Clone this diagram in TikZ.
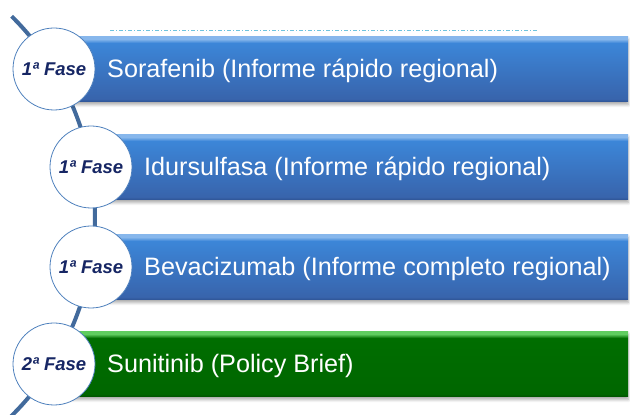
\documentclass[tikz,border=0pt]{standalone}
\usepackage{fontspec}
\setmainfont{Liberation Sans}
\usetikzlibrary{calc,shadows.blur}

\definecolor{blueD}{RGB}{47,85,151}
\definecolor{blueB}{RGB}{56,100,172}
\definecolor{blueT}{RGB}{60,134,216}
\definecolor{blueL}{RGB}{135,183,236}
\definecolor{greenD}{RGB}{0,82,0}
\definecolor{greenB}{RGB}{0,102,0}
\definecolor{greenT}{RGB}{0,110,0}
\definecolor{greenL}{RGB}{95,205,95}
\definecolor{spineblue}{RGB}{66,106,156}
\definecolor{circleline}{RGB}{79,129,189}
\definecolor{phasenavy}{RGB}{22,38,100}
\definecolor{dotcyan}{RGB}{110,195,222}

\pgfdeclareverticalshading{barblueshade}{100bp}{color(0bp)=(blueD); color(25bp)=(blueD);
  color(27bp)=(blueB); color(70bp)=(blueT); color(73bp)=(blueL); color(100bp)=(blueL)}
\pgfdeclareverticalshading{bargreenshade}{100bp}{color(0bp)=(greenD); color(25bp)=(greenD);
  color(27bp)=(greenB); color(70bp)=(greenT); color(73bp)=(greenL); color(100bp)=(greenL)}

\tikzset{
  bar/.style={rectangle, minimum height=65pt, inner sep=0pt, anchor=west,
    blur shadow={shadow xshift=0pt, shadow yshift=-3pt, shadow blur radius=3pt, shadow opacity=35}},
  bluebar/.style={bar, shading=barblueshade},
  greenbar/.style={bar, shading=bargreenshade},
  phase/.style={circle, draw=circleline, line width=0.8pt, fill=white, minimum size=82pt,
    inner sep=0pt, text=phasenavy, font=\bfseries\itshape\fontsize{18.5}{21}\selectfont},
  bartext/.style={text=white, font=\fontsize{25.2}{30}\selectfont, inner sep=0pt, anchor=base west},
  spine/.style={draw=spineblue, line width=4pt}
}

\begin{document}
\begin{tikzpicture}[x=1pt, y=1pt]
    \useasboundingbox (0,0) rectangle (630,415);
    \coordinate (hub) at (-186,199);
    % curved spine behind the circles
    \draw[spine] ($(hub)+(45.3:281)$) arc[start angle=45.3, end angle=-50, radius=281];
    \draw[dotcyan, line width=1pt, dash pattern=on 4pt off 2pt on 1pt off 2pt] (110,384) -- (537,384);
    \foreach \n/\x/\y/\kind/\fase/\drug in {
        1/54/346/blue/1/{Sorafenib (Informe rápido regional)},
        2/91/248/blue/1/{Idursulfasa (Informe rápido regional)},
        3/91/148/blue/1/{Bevacizumab (Informe completo regional)},
        4/54/51/green/2/{Sunitinib (Policy Brief)}}
    {
        \node[\kind bar, minimum width={628-\x}] (bar\n) at (\x,\y) {};
        \node[bartext] (drug\n) at ([xshift=53pt, yshift=-8.5pt]bar\n.west) {\drug};
        \node[phase] (fase\n) at (bar\n.west) {\fase ª Fase};
    }
\end{tikzpicture}
\end{document}
